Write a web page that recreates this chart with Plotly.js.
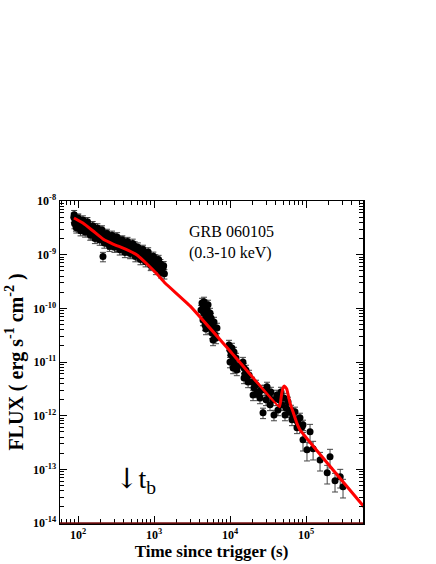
<!DOCTYPE html>
<html>
<head>
<meta charset="utf-8">
<script src="https://cdn.plot.ly/plotly-3.0.1.min.js"></script>
<style>html,body{margin:0;padding:0;background:#fff;}#chart{width:436px;height:564px;}</style>
</head>
<body>
<div id="chart"></div>
<script>
// Early (steep decay / plateau) data
const earlyT = [88,90,92,94,96,98,100,103,106,109,112,115,118,122,126,130,134,138,143,148,153,158,164,170,176,182,189,196,203,211,219,227,236,245,255,265,275,286,297,309,321,334,347,361,375,390,406,422,439,457,475,494,514,535,556,578,601,625,650,676,703,731,760,790,822,855,889,925,962,1000,1040,1080,1125,1170,1215,1265,1315,1370,213,
  89,95,101,108,116,124,133,145,156,167,180,193,207,222,240,260,280,302,327,354,383,414,448,485,525,568,614,663,716,775,838,906,980,1060,1150,1240,1340];
const earlyF = [4.99e-9,3.80e-9,4.39e-9,3.42e-9,4.44e-9,3.80e-9,4.70e-9,3.48e-9,3.73e-9,3.19e-9,4.03e-9,3.44e-9,4.06e-9,2.88e-9,3.55e-9,3.02e-9,3.64e-9,2.77e-9,3.10e-9,2.45e-9,3.13e-9,2.65e-9,3.17e-9,2.39e-9,2.66e-9,2.15e-9,2.69e-9,2.27e-9,2.72e-9,1.87e-9,2.30e-9,1.95e-9,2.34e-9,1.77e-9,1.97e-9,1.56e-9,2.01e-9,1.71e-9,2.06e-9,1.57e-9,1.68e-9,1.43e-9,1.80e-9,1.53e-9,1.81e-9,1.28e-9,1.57e-9,1.34e-9,1.62e-9,1.23e-9,1.41e-9,1.09e-9,1.40e-9,1.19e-9,1.45e-9,1.07e-9,1.17e-9,9.7e-10,1.21e-9,1.02e-9,1.19e-9,8.3e-10,1.01e-9,8.55e-10,1.02e-9,7.64e-10,8.67e-10,6.62e-10,8.41e-10,7.05e-10,8.34e-10,6.24e-10,6.58e-10,5.51e-10,6.76e-10,5.38e-10,5.78e-10,4.39e-10,9.2e-10,
  5.55e-9,3.16e-9,4.77e-9,2.80e-9,4.41e-9,2.65e-9,4.10e-9,2.32e-9,3.46e-9,2.01e-9,3.14e-9,1.87e-9,2.88e-9,1.65e-9,2.48e-9,1.44e-9,2.29e-9,1.38e-9,2.14e-9,1.23e-9,1.87e-9,1.10e-9,1.75e-9,1.05e-9,1.62e-9,9.2e-10,1.38e-9,8.1e-10,1.25e-9,7.4e-10,1.12e-9,6.3e-10,9.3e-10,5.3e-10,8.1e-10,4.6e-10,6.2e-10];

// Mid-time data (orbits 2 onward)
const midT = [4280,4410,4550,4690,4830,4980,4410,4690,5140,5300,5460,5630,5800,5800,5980,6160,6350,5980,6540,4830,5460,5140,4150,4550,6740,
  9700,10000,10300,10600,11000,11300,11600,12000,12300,11000,10000,12700,
  14800,15300,15700,16200,16800,17300,15300,17800,
  19500,20700,22000,22700,24100,25600,20100,24800,27200,
  28900,30700,32600,34600,36800,29800,33600,37900,
  41500,44100,46900,48300,51300,54500,57900,59700,42800,52900,
  63500,67400,71600,73800,78500,83300,88600,91300,76100,65400];
const midF = [1.26e-10,1.02e-10,8.2e-11,1.16e-10,6.6e-11,9.3e-11,6.08e-11,4.91e-11,7.2e-11,5.58e-11,4.32e-11,6.6e-11,4.91e-11,3.48e-11,3.96e-11,5.58e-11,3.2e-11,2.58e-11,2.81e-11,4.13e-11,8.2e-11,1.16e-10,9.3e-11,1.32e-10,4.32e-11,
  2.08e-11,1.68e-11,1.36e-11,1.83e-11,1.09e-11,1.54e-11,8.83e-12,1.19e-11,7.13e-12,7.76e-12,1.0e-11,8.45e-12,
  1.0e-11,7.76e-12,6.0e-12,7.13e-12,5.06e-12,4.26e-12,5.06e-12,5.75e-12,
  4.26e-12,3.30e-12,3.75e-12,2.77e-12,2.44e-12,3.02e-12,2.44e-12,2.14e-12,1.13e-12,
  3.02e-12,3.44e-12,2.44e-12,2.77e-12,1.97e-12,1.97e-12,1.59e-12,1.03e-12,
  2.44e-12,1.97e-12,2.77e-12,1.59e-12,2.14e-12,1.40e-12,1.81e-12,1.18e-12,1.28e-12,1.03e-12,
  1.28e-12,9.9e-13,1.18e-12,8.35e-13,7.35e-13,9.1e-13,6.18e-13,6.75e-13,5.93e-13,8.35e-13];

// Late data
const lateT = [91300,113000,103000,124000,153000,207000,190000,241000,282000,307000];
const lateF = [3.54e-13,4.99e-13,2.31e-13,2.41e-13,1.50e-13,1.71e-13,8.6e-14,6.1e-14,7.24e-14,4.72e-14];

// Model curve
const modelT = [88.5,116,158,213,289,415,597,809,1094,1396,2978,10000,44800,47600,49800,51800,55700,61500,68100,75500,83400,695000];
const modelF = [4.82e-9,3.89e-9,2.76e-9,1.96e-9,1.58e-9,1.28e-9,9.86e-10,6.71e-10,4.38e-10,2.97e-10,1.11e-10,1.61e-11,1.46e-12,2.44e-12,3.30e-12,3.59e-12,3.15e-12,1.73e-12,1.13e-12,7.35e-13,5.44e-13,1.48e-14];

// Tick labels
const xTickVals = [1e2,1e3,1e4,1e5];
const xTickText = ['<b>10<sup>2</sup></b>','<b>10<sup>3</sup></b>','<b>10<sup>4</sup></b>','<b>10<sup>5</sup></b>'];
const yTickVals = [1e-14,1e-13,1e-12,1e-11,1e-10,1e-9,1e-8];
const yTickText = ['<b>10<sup>-14</sup></b>','<b>10<sup>-13</sup></b>','<b>10<sup>-12</sup></b>','<b>10<sup>-11</sup></b>','<b>10<sup>-10</sup></b>','<b>10<sup>-9</sup></b>','<b>10<sup>-8</sup></b>'];

const serif = 'Liberation Serif, Times New Roman, serif';
const errStyle = (p) => ({type:'percent', value:p, visible:true, color:'#444', thickness:1, width:3});

const traces = [
  {x:earlyT, y:earlyF, type:'scatter', mode:'markers', marker:{color:'#000', size:7}, error_y:errStyle(20), showlegend:false},
  {x:midT, y:midF, type:'scatter', mode:'markers', marker:{color:'#000', size:7}, error_y:errStyle(22), showlegend:false},
  {x:lateT, y:lateF, type:'scatter', mode:'markers', marker:{color:'#000', size:7}, error_y:errStyle(38), showlegend:false},
  {x:modelT, y:modelF, type:'scatter', mode:'lines', line:{color:'#ff0000', width:3, shape:'spline', smoothing:0.3}, showlegend:false}
];

const axisCommon = {
  type:'log', showgrid:false, zeroline:false, showline:true, linecolor:'#000', linewidth:1.5,
  mirror:'ticks', ticks:'inside', ticklen:7, tickwidth:1, tickcolor:'#000',
  tickfont:{family:serif, size:12, color:'#000'},
  minor:{ticks:'inside', ticklen:4, tickcolor:'#000', tickwidth:1, dtick:'D1', showgrid:false}
};

const layout = {
  width:436, height:564,
  margin:{l:60, r:73, t:201, b:41},
  paper_bgcolor:'#fff', plot_bgcolor:'#fff',
  font:{family:serif, color:'#000'},
  xaxis:Object.assign({}, axisCommon, {
    range:[1.763, 5.75], tickmode:'array', tickvals:xTickVals, ticktext:xTickText,
    title:{text:'<b>Time since trigger (s)</b>', font:{family:serif, size:17, color:'#000'}, standoff:2}
  }),
  yaxis:Object.assign({}, axisCommon, {
    range:[-14, -8], tickmode:'array', tickvals:yTickVals, ticktext:yTickText,
    title:{text:'<b>FLUX ( erg s<sup>-1</sup> cm<sup>-2</sup> )</b>', font:{family:serif, size:20, color:'#000'}, standoff:4}
  }),
  shapes:[
    {type:'line', xref:'paper', yref:'paper', x0:0, x1:1, y0:0, y1:0, line:{color:'#7a1010', width:1.5}}
  ],
  annotations:[
    {xref:'paper', yref:'paper', x:0.42, xanchor:'left', y:0.938, text:'GRB 060105', showarrow:false, font:{family:serif, size:16, color:'#000'}},
    {xref:'paper', yref:'paper', x:0.42, xanchor:'left', y:0.873, text:'(0.3-10 keV)', showarrow:false, font:{family:serif, size:16, color:'#000'}},
    {xref:'paper', yref:'paper', x:0.175, xanchor:'left', y:0.07, text:'<span style="font-family:DejaVu Serif">\u2193</span>t<sub>b</sub>', showarrow:false, font:{family:serif, size:28, color:'#000'}}
  ]
};

Plotly.newPlot('chart', traces, layout, {displayModeBar:false, staticPlot:true});
</script>
</body>
</html>
